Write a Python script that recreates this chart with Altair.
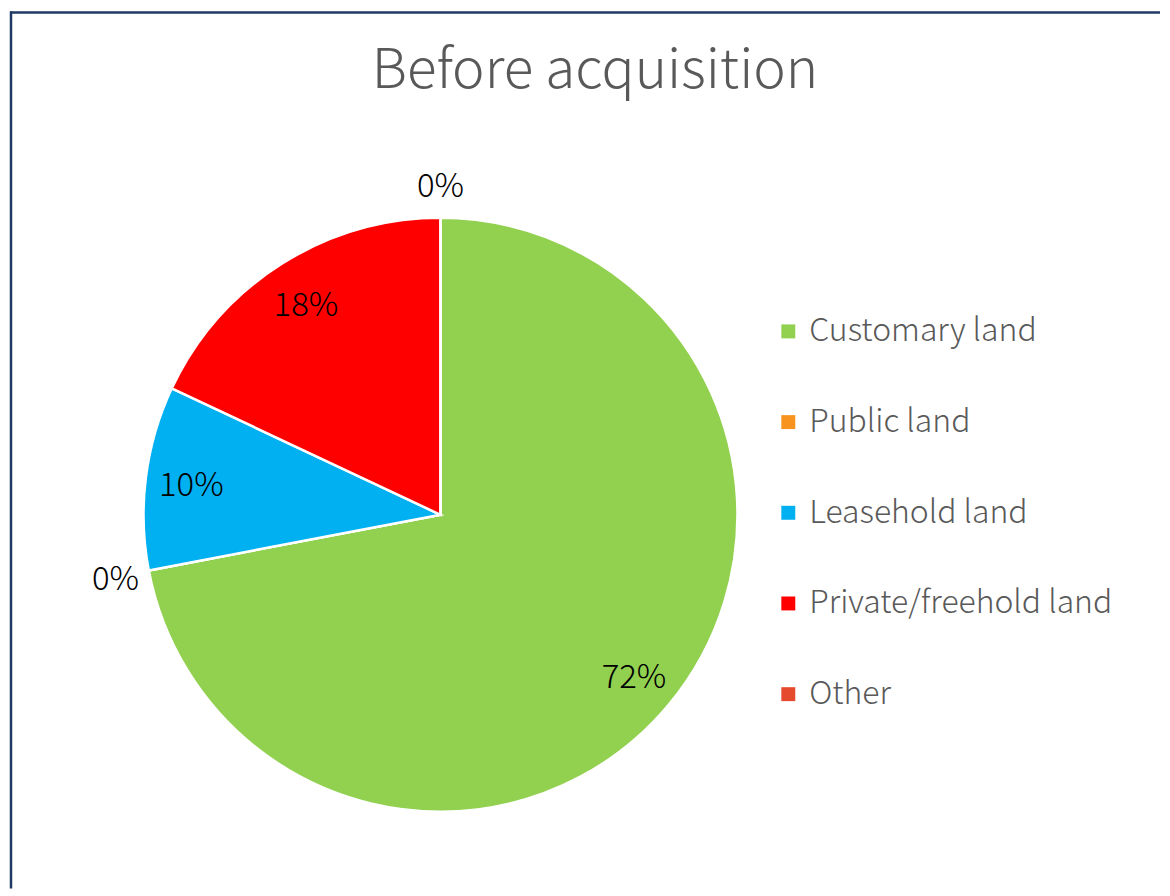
import altair as alt
import pandas as pd

categories = ["Customary land", "Public land", "Leasehold land", "Private/freehold land", "Other"]
values = [72, 0, 10, 18, 0]
colors = ["#92D050", "#F7931E", "#00B0F0", "#FF0000", "#E64A2E"]
title_text = "Before acquisition"

df = pd.DataFrame({"category": categories, "value": values, "idx": list(range(len(categories)))})

FONT = "Noto Sans CJK JP"
CX, CY = 432, 505
W, H = 1154, 880
BORDER = "#1F3864"

color = alt.Color(
    "category:N",
    scale=alt.Scale(domain=categories, range=colors),
    sort=categories,
    legend=alt.Legend(
        title=None,
        orient="none",
        legendX=765,
        legendY=305,
        symbolType="square",
        symbolSize=196,
        symbolStrokeWidth=0,
        labelFontSize=32,
        labelFont=FONT,
        labelFontWeight=300,
        labelColor="#595959",
        labelOffset=5,
        rowPadding=59,
        labelLimit=400,
    ),
)

theta_scale = alt.Scale(domain=[0, 100], range=[0, 6.283185307179586])

pie = alt.Chart(df).mark_arc(stroke="white", strokeWidth=2.5, outerRadius=298).encode(
    theta=alt.Theta("value:Q", stack=True, scale=theta_scale),
    order=alt.Order("idx:Q"),
    color=color,
    x=alt.value(CX),
    y=alt.value(CY),
)

labels = alt.Chart(df).transform_window(
    cum="sum(value)", sort=[alt.SortField("idx", order="ascending")],
    frame=[None, 0],
).transform_calculate(
    mid="datum.cum - datum.value / 2",
    r="datum.value > 0 ? 252 : 332",
    lbl="datum.value + '%'",
).mark_text(font=FONT, fontSize=33, fontWeight=300, color="black", dy=3).encode(
    theta=alt.Theta("mid:Q", stack=None, scale=theta_scale),
    radius=alt.Radius("r:Q", scale=None),
    text="lbl:N",
    x=alt.value(CX),
    y=alt.value(CY),
)

title = alt.Chart(pd.DataFrame({"t": [title_text]})).mark_text(
    font=FONT, fontSize=55, fontWeight=300, color="#595959", baseline="middle", align="center"
).encode(text="t:N", x=alt.value(587), y=alt.value(60))

frame_src = pd.DataFrame({"k": [0]})
top_rule = alt.Chart(frame_src).mark_rule(color=BORDER, strokeWidth=2.5).encode(
    x=alt.value(0), x2=alt.value(W), y=alt.value(1)
)
left_rule = alt.Chart(frame_src).mark_rule(color=BORDER, strokeWidth=2.5).encode(
    x=alt.value(1), y=alt.value(0), y2=alt.value(H)
)

chart = alt.layer(pie, labels, title, top_rule, left_rule).properties(
    width=W, height=H, padding=0
).configure_view(stroke=None)

chart.save("out.html", embed_options={"renderer": "svg", "actions": False})
